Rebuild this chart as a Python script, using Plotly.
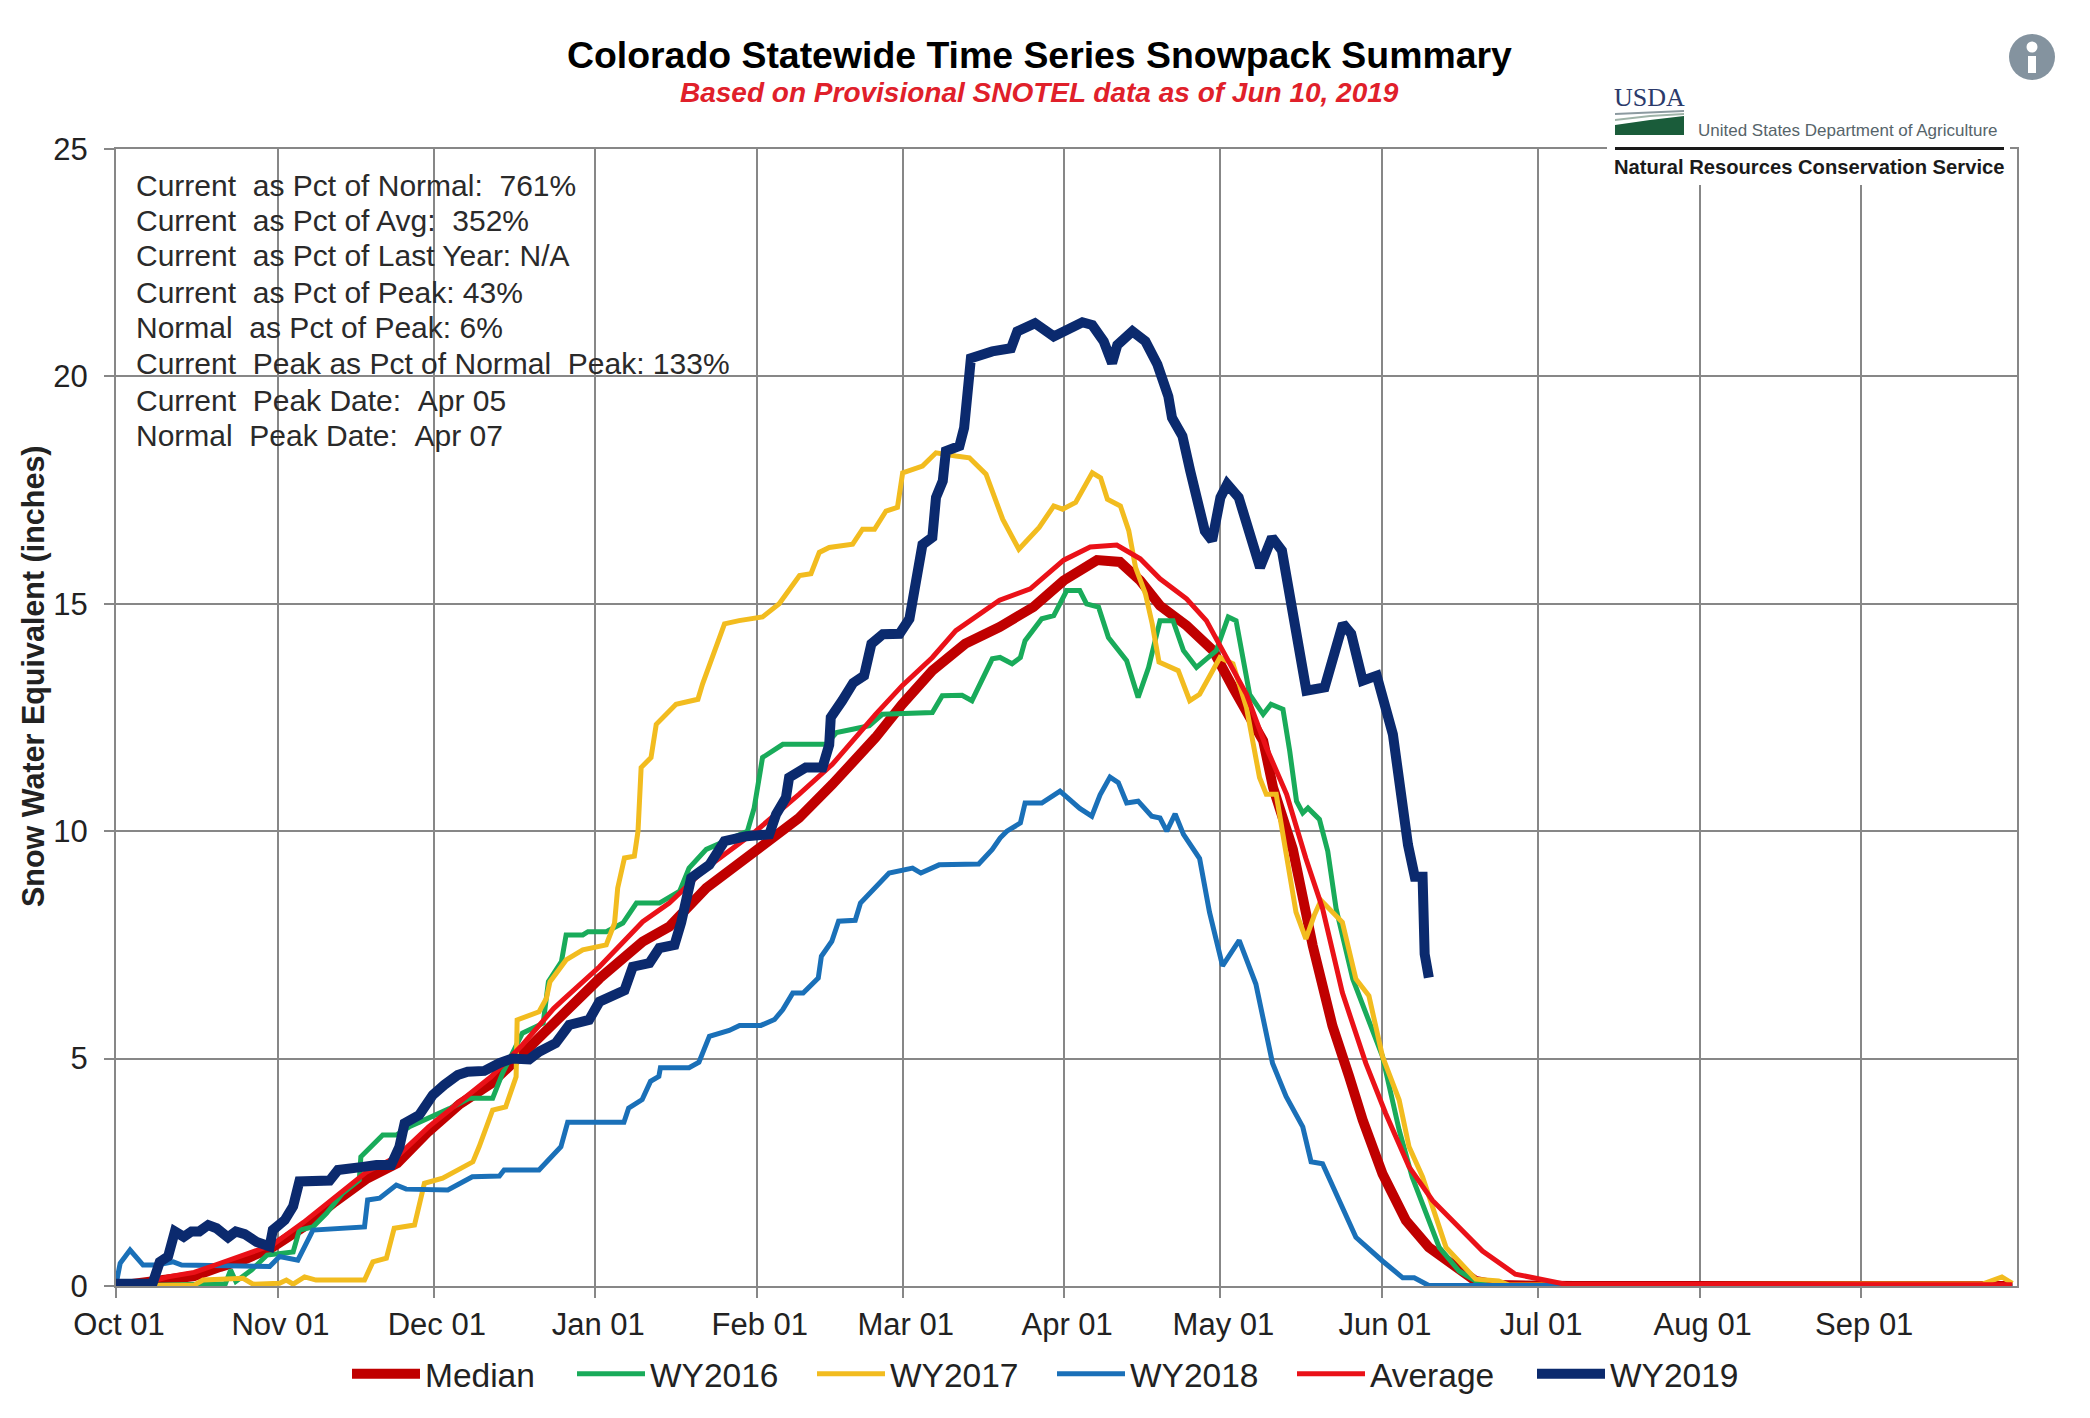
import pandas as pd
import plotly.graph_objects as go

START = pd.Timestamp("2018-10-01")

median_days = [0,7,15,20,25,30,36,42,48,54,60,66,72,78,84,88.4,92.8,101.1,106.2,113.3,122.8,131.1,137.5,145.8,150.9,156.7,163,169.6,176.1,181.9,188.3,192.7,196.6,200.4,205.5,210.6,214.4,217.6,220.2,222.1,225.9,229.7,233.5,236.7,239.3,243.1,247.6,252,257.1,261,265.4,272,280,364]
median_swe = [0,0.08,0.22,0.42,0.6,0.85,1.3,1.85,2.35,2.7,3.4,4.0,4.45,5.1,5.8,6.32,6.76,7.57,7.9,8.75,9.56,10.29,11.03,12.06,12.79,13.53,14.12,14.49,14.93,15.51,15.96,15.92,15.51,14.96,14.52,13.97,13.16,12.5,11.99,10.96,9.6,7.49,5.72,4.61,3.65,2.47,1.44,0.85,0.41,0.11,0.02,0.03,0,0]

wy2016_days = [0,18,21,22,23,26,29,34,35.2,37.8,40.4,43.5,46.7,47,51.2,53.8,56.3,64,67.8,72.3,74.2,78,82,83,85.5,86.4,89.6,90.6,94.1,97.3,99.9,104.3,108.2,110,113.3,121.2,122.5,124.1,128,136.3,138.3,141.4,144.6,147.1,156.7,158.6,162.4,164.3,168.2,169.7,172,173.6,174.5,177.7,180,182.5,185,186.3,188.6,190.5,194,196.2,198.2,200.4,202.9,204.9,207.4,211.2,213.5,215,217.6,220.2,221.7,224,225.3,226.6,227.8,228.8,231,232.6,234.2,237.4,243.1,246.3,248.8,254,257.8,261.6,264,364]
wy2016_swe = [0,0.02,0.05,0.35,0.1,0.35,0.68,0.75,1.23,1.3,1.6,2.04,2.33,2.84,3.32,3.32,3.5,3.9,4.13,4.13,4.68,5.56,5.78,6.69,7.13,7.72,7.72,7.79,7.79,7.98,8.42,8.42,8.68,9.19,9.6,10.0,10.51,11.62,11.91,11.91,12.17,12.24,12.32,12.57,12.61,12.98,12.99,12.87,13.79,13.82,13.68,13.82,14.19,14.67,14.74,15.29,15.29,15.0,14.93,14.26,13.75,12.94,13.6,14.63,14.63,13.97,13.6,13.97,14.71,14.63,13.01,12.57,12.79,12.68,11.76,10.66,10.4,10.51,10.26,9.56,8.3,6.75,5.05,3.43,2.4,0.85,0.33,0.07,0,0]

wy2017_days = [0,15,16.7,24.4,26.3,31.4,32.7,34,36.2,38.4,47.7,49.3,51.9,53.4,57.3,59.2,62.7,68.5,69.7,72.3,74.8,76.8,77,81.2,82.6,83.3,86.4,89.6,94.1,95.7,96.3,97.6,99.5,100.2,100.8,102.7,103.7,107.5,111.7,112.6,116.8,119.6,124.1,127.3,131.2,133.4,135,136.9,141.4,143.3,145.6,147.8,150,151,154.8,157.4,161.2,163.8,167,170.2,173.3,177.2,180,181.7,184.2,187.4,189,190.3,192.8,194.4,195.7,197.6,198.9,200.2,203.9,206.1,208,211.9,214.4,217,219.5,220.8,222.7,224.9,226.5,228.4,230,231.3,235.4,238,240.5,243.1,246.3,248.2,250.8,255.3,261,265.4,267.4,358.4,362,364]
wy2017_swe = [0,0.02,0.13,0.17,0.04,0.06,0.13,0.04,0.2,0.13,0.13,0.53,0.61,1.27,1.34,2.26,2.37,2.73,3.06,3.87,3.94,4.6,5.85,6.03,6.32,6.69,7.17,7.39,7.5,7.98,8.75,9.41,9.45,10.0,11.4,11.62,12.35,12.79,12.9,13.24,14.56,14.63,14.71,15.0,15.62,15.66,16.13,16.24,16.31,16.64,16.64,17.04,17.12,17.88,18.03,18.32,18.25,18.21,17.85,16.86,16.2,16.68,17.15,17.08,17.23,17.88,17.77,17.3,17.15,16.61,15.8,15.22,14.56,13.72,13.53,12.87,13.01,13.82,13.68,12.72,11.18,10.81,10.81,9.4,8.22,7.63,8.15,8.48,8.0,6.75,6.38,5.05,4.09,3.06,2.4,0.85,0.15,0.11,0.02,0.05,0.2,0.06]

wy2018_days = [0,0.8,2.7,5.2,7.8,11,12.6,29.5,31.4,34.9,37.8,47.7,48.3,50.6,53.8,55.7,63.7,68.4,73.6,74.5,81.2,85.4,86.7,97.5,98.4,101,102.6,104.2,104.5,110,111.9,113.9,117.7,119.7,123.8,126.4,128,129.9,131.9,134.8,135.4,137.4,138.7,141.9,142.9,145.8,148.4,152.9,154.5,158,165.6,168.2,169.7,171,173.6,174.5,177.7,181.2,183.2,185,187.3,188.9,190.8,192.4,194,196.2,198.8,200.4,201.7,203.3,204.9,206.8,208,209.9,212.4,215.6,218.8,222,224.6,227.8,229.4,231.6,238,243.1,247,249.2,252,364]
wy2018_swe = [0.03,0.5,0.79,0.46,0.46,0.53,0.46,0.43,0.65,0.57,1.23,1.3,1.89,1.93,2.22,2.13,2.11,2.4,2.42,2.55,2.55,3.06,3.6,3.6,3.91,4.1,4.5,4.61,4.8,4.8,4.92,5.49,5.62,5.73,5.73,5.86,6.08,6.44,6.44,6.77,7.25,7.58,8.02,8.04,8.42,8.75,9.08,9.19,9.08,9.26,9.28,9.6,9.85,10.0,10.18,10.62,10.62,10.88,10.66,10.5,10.33,10.8,11.19,11.07,10.62,10.66,10.33,10.29,10.0,10.38,9.93,9.63,9.4,8.22,7.04,7.6,6.64,4.9,4.17,3.5,2.73,2.69,1.07,0.55,0.18,0.18,0.01,0]

average_days = [0,5,10,15,20,25,30,36,42,48,54,60,66,72,78,84,85.8,92.8,101.1,106.2,113.3,122.8,131.1,137.5,145.8,150.9,156.7,161.2,169.6,175.5,181.9,187,192.1,196.6,200.4,205.5,209.3,213.2,217,220.8,224.7,228.4,231.6,235.4,239.9,243.7,248.2,252.7,257.8,262.3,268.6,273.8,278.2,364]
average_swe = [0,0.05,0.2,0.3,0.5,0.7,0.9,1.4,1.95,2.5,2.85,3.5,4.05,4.6,5.3,6.1,6.29,7.02,8.01,8.42,9.19,10.0,10.81,11.47,12.57,13.2,13.82,14.41,15.08,15.33,15.96,16.25,16.29,15.99,15.55,15.11,14.63,13.82,13.01,11.84,10.81,9.4,8.3,6.45,4.9,3.8,2.62,1.88,1.29,0.77,0.26,0.15,0.04,0.03]

wy2019_days = [0,7,8.4,10,11.3,13,14.5,16,17.7,19.3,21.5,23,24.7,27,29.5,30.1,32.4,34,35.2,41,42.6,44.8,47.4,50,52.8,54.4,55.4,58.2,60.8,63,65.6,67.5,70.7,73.6,76,79.3,81.2,84.4,87,90.8,92.8,97.6,99.2,102.4,104.3,107.2,108.5,110.4,113.9,116.8,121,125.4,126.7,128.6,129.2,132.4,135.6,136.9,137.2,139.4,141.5,143.6,145,147.2,150.4,152.3,153.6,154.8,156.7,157.4,158.7,159.3,161.9,162.8,163.8,164.1,168.2,171.8,173,176.4,180,182.3,185.5,187.4,189.6,191.2,192.2,195.1,197.6,199.9,202,202.7,204.7,206.2,207.5,209,210.4,212,213.3,215.5,219.6,221.9,223.8,225,226.6,228.5,232,235.5,237.1,239.3,242,245.1,248,249.3,250.8,251.2,252]
wy2019_swe = [0.05,0.05,0.53,0.65,1.2,1.08,1.2,1.2,1.34,1.27,1.07,1.2,1.14,0.97,0.87,1.23,1.45,1.75,2.3,2.32,2.55,2.6,2.62,2.66,2.66,3.06,3.58,3.76,4.2,4.42,4.64,4.71,4.73,4.9,5.0,4.98,5.15,5.34,5.74,5.85,6.25,6.5,7.02,7.1,7.43,7.5,8.0,8.97,9.26,9.78,9.89,9.93,10.37,10.74,11.18,11.4,11.4,11.9,12.5,12.87,13.26,13.42,14.12,14.33,14.34,14.67,15.5,16.3,16.46,17.34,17.7,18.36,18.47,18.87,20.04,20.4,20.55,20.62,20.99,21.17,20.88,21.02,21.19,21.13,20.77,20.29,20.69,20.99,20.77,20.26,19.56,19.09,18.69,17.92,17.26,16.6,16.39,17.34,17.63,17.34,15.8,16.46,16.17,15.3,14.41,13.09,13.16,14.56,14.34,13.31,13.42,12.13,9.7,9.0,9.0,7.3,6.78]

info_lines = [
    "Current\u00a0\u00a0as Pct of Normal:\u00a0\u00a0761%",
    "Current\u00a0\u00a0as Pct of Avg:\u00a0\u00a0352%",
    "Current\u00a0\u00a0as Pct of Last Year: N/A",
    "Current\u00a0\u00a0as Pct of Peak: 43%",
    "Normal\u00a0\u00a0as Pct of Peak: 6%",
    "Current\u00a0\u00a0Peak as Pct of Normal\u00a0\u00a0Peak: 133%",
    "Current\u00a0\u00a0Peak Date:\u00a0\u00a0Apr 05",
    "Normal\u00a0\u00a0Peak Date:\u00a0\u00a0Apr 07",
]
info_y_px = [185, 220, 255, 292, 327, 363, 400, 435]

W, H = 2090, 1418
L, R, T, B = 116, 2017, 149, 1286
GRID = "#878787"
FONT = "Liberation Sans"


def when(days):
    return START + pd.to_timedelta(days, unit="D")


series = [
    ("Median", median_days, median_swe, "#c00000", 10, "legend"),
    ("WY2016", wy2016_days, wy2016_swe, "#19ab5a", 5, "legend2"),
    ("WY2017", wy2017_days, wy2017_swe, "#f2bc1f", 5, "legend2"),
    ("WY2018", wy2018_days, wy2018_swe, "#1a70b8", 5, "legend2"),
    ("Average", average_days, average_swe, "#ea1118", 5, "legend2"),
    ("WY2019", wy2019_days, wy2019_swe, "#0b2a6e", 10, "legend2"),
]

fig = go.Figure()
for name, d, v, color, width, legend in series:
    fig.add_trace(go.Scatter(x=when(d), y=v, mode="lines", name=name, legend=legend,
                             line=dict(color=color, width=width), hoverinfo="x+y+name"))


def sx(x):
    return (x - L) / (R - L)


def sy(y):
    return 1 - (y - T) / (B - T)


annotations = [
    dict(text="<b>Colorado Statewide Time Series Snowpack Summary</b>", x=sx(1039), y=sy(55),
         font=dict(size=37.4, color="#000000", family=FONT)),
    dict(text="<b><i>Based on Provisional SNOTEL data as of Jun 10, 2019</i></b>", x=sx(1039), y=sy(93),
         font=dict(size=28, color="#e0202a", family=FONT)),
    dict(text="USDA", x=sx(1649), y=sy(98), font=dict(size=26, color="#2b3a6b", family="Liberation Serif")),
    dict(text="United States Department of Agriculture", x=sx(1848), y=sy(130),
         font=dict(size=17, color="#56646a", family=FONT)),
    dict(text="<b>Natural Resources Conservation Service</b>", x=sx(1809), y=sy(167),
         font=dict(size=20.2, color="#1a1a1a", family=FONT)),
    dict(text="<b>Snow Water Equivalent (inches)</b>", x=sx(33), y=sy(676), textangle=-90,
         font=dict(size=30.5, color="#222222", family=FONT)),
]
for line, y in zip(info_lines, info_y_px):
    annotations.append(dict(text=line, x=sx(134), y=sy(y), xanchor="left",
                            font=dict(size=30, color="#2a2a2a", family=FONT)))
for a in annotations:
    a.update(xref="paper", yref="paper", showarrow=False, yanchor="middle")
    a.setdefault("xanchor", "center")


def rect(x0, y0, x1, y1, color, layer="above"):
    return dict(type="rect", xref="paper", yref="paper", x0=sx(x0), x1=sx(x1), y0=sy(y0), y1=sy(y1),
                fillcolor=color, line=dict(width=0), layer=layer)


def circle(cx, cy, r, color):
    return dict(type="circle", xref="paper", yref="paper", x0=sx(cx - r), x1=sx(cx + r), y0=sy(cy - r),
                y1=sy(cy + r), fillcolor=color, line=dict(width=0), layer="above")


def path(points, color):
    d = "M " + " L ".join(f"{sx(x):.5f},{sy(y):.5f}" for x, y in points) + " Z"
    return dict(type="path", xref="paper", yref="paper", path=d, fillcolor=color, line=dict(width=0), layer="above")


shapes = [
    rect(1607, 138, 2010, 185, "#ffffff"),      # logo block hides the grid
    rect(1615, 147, 2004, 150, "#1a1a1a"),      # rule above the agency name
    path([(1615, 125), (1650, 120), (1684, 116), (1684, 135), (1615, 135)], "#1a5c3a"),
    path([(1615, 113), (1684, 110), (1684, 112), (1615, 115)], "#8c9aa0"),
    path([(1615, 119), (1650, 115), (1684, 113), (1684, 115), (1650, 117), (1615, 121)], "#9fb3a8"),
    circle(2032, 57, 23, "#84939f"),
    circle(2032, 47, 5.5, "#ffffff"),
    rect(2028, 56, 2036, 73, "#ffffff"),
]

legend_style = dict(orientation="h", yanchor="middle", xanchor="left", y=sy(1374),
                    font=dict(size=33.5, color="#222222", family=FONT), itemwidth=68,
                    bgcolor="rgba(0,0,0,0)", traceorder="normal")

axis_style = dict(showgrid=True, gridcolor=GRID, gridwidth=2, showline=True, linecolor=GRID, linewidth=2,
                  mirror=True, ticks="outside", ticklen=10, tickcolor=GRID, tickwidth=2, zeroline=False,
                  tickfont=dict(size=31, color="#222222", family=FONT))

fig.update_layout(
    width=W, height=H, autosize=False,
    margin=dict(l=L, r=W - R, t=T, b=H - B, pad=0),
    paper_bgcolor="#ffffff", plot_bgcolor="#ffffff",
    font=dict(family=FONT, color="#222222"),
    showlegend=True,
    legend=dict(x=sx(347), **legend_style),
    legend2=dict(x=sx(572), entrywidth=157, entrywidthmode="pixels", **legend_style),
    annotations=annotations,
    shapes=shapes,
    xaxis=dict(type="date", range=[START, START + pd.Timedelta(days=364.9)], tick0=START, dtick="M1",
               tickformat="%b %d", hoverformat="%b %d", ticklabelshift=3, **axis_style),
    yaxis=dict(range=[0, 25], dtick=5, ticklabelstandoff=10, **axis_style),
)

fig.write_html("out.html", config={"displayModeBar": False}, post_script="document.body.style.margin='0';")
